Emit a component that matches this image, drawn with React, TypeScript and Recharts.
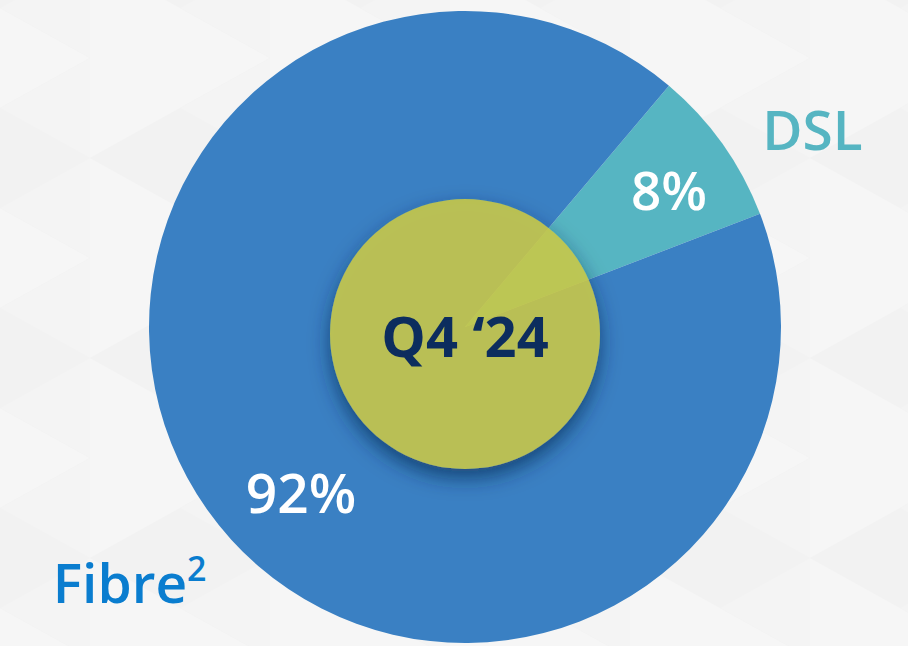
import { PieChart, Pie, Cell } from "recharts";

const CATEGORIES = ["DSL", "Fibre"];
const SHARES = [8, 92];
const CENTER_TEXT = "Q4 \u201824";

const SLICE_COLORS = ["#56b5c2", "#3a80c3"];
const NAME_COLORS = ["#56b5c2", "#0a7dcf"];

// label spots, [angle in degrees, distance from pie centre in px]
const VALUE_SPOT = [
  [34, 246],
  [225, 232],
];
const NAME_SPOT = [
  [29.7, 400],
  [217.2, 421],
];

const FONT = "'Open Sans', 'DejaVu Sans', sans-serif";

const data = CATEGORIES.map((name, i) => ({ name, value: SHARES[i] }));
const centre = [{ name: CENTER_TEXT, value: 1 }];

const RAD = Math.PI / 180;

function spot(cx: number, cy: number, [a, r]: number[]) {
  return { x: cx + r * Math.cos(a * RAD), y: cy - r * Math.sin(a * RAD) };
}

function SliceLabel(props: any) {
  const { cx, cy, index, percent } = props;
  const v = spot(cx, cy, VALUE_SPOT[index]);
  const n = spot(cx, cy, NAME_SPOT[index]);
  const name = CATEGORIES[index];
  return (
    <g>
      <text
        x={v.x}
        y={v.y}
        textAnchor="middle"
        dominantBaseline="central"
        fill="#ffffff"
        fontFamily={FONT}
        fontWeight={600}
        fontSize={index === 0 ? 53 : 55}
      >
        {`${Math.round(percent * 100)}%`}
      </text>
      <text
        x={n.x}
        y={n.y}
        textAnchor="middle"
        dominantBaseline="central"
        fill={NAME_COLORS[index]}
        fontFamily={FONT}
        fontWeight={600}
        fontSize={55}
      >
        {name}
        {name === "Fibre" && (
          <tspan fontSize={34} dy={-14}>
            2
          </tspan>
        )}
      </text>
    </g>
  );
}

function CentreLabel(props: any) {
  const { cx, cy } = props;
  return (
    <text
      x={cx}
      y={cy + 1}
      textAnchor="middle"
      dominantBaseline="central"
      fill="#0c2d5e"
      fontFamily={FONT}
      fontWeight={700}
      fontSize={56}
    >
      {CENTER_TEXT}
    </text>
  );
}

function Backdrop() {
  return (
    <svg
      width={908}
      height={646}
      style={{ position: "absolute", left: 0, top: 0 }}
    >
      <defs>
        <pattern
          id="tri"
          width={180}
          height={200}
          patternUnits="userSpaceOnUse"
          x={-90}
          y={-42}
        >
          <rect width={180} height={200} fill="#f2f2f2" />
          <polygon points="0,0 180,100 0,200" fill="#f6f6f6" />
          <polygon points="180,0 90,50 180,100" fill="#f4f4f4" />
          <polygon points="180,100 90,150 180,200" fill="#f4f4f4" />
        </pattern>
      </defs>
      <rect width={908} height={646} fill="url(#tri)" />
    </svg>
  );
}

export default function App() {
  return (
    <div
      style={{
        position: "absolute",
        left: 0,
        top: 0,
        width: 908,
        height: 646,
        overflow: "hidden",
        background: "#f2f2f2",
      }}
    >
      <Backdrop />
      <div style={{ position: "absolute", left: 0, top: 0 }}>
        <PieChart
          width={908}
          height={646}
          margin={{ top: 0, right: 0, bottom: 0, left: 0 }}
        >
          <defs>
            <filter id="ringShadow" x="-40%" y="-40%" width="180%" height="190%">
              <feGaussianBlur in="SourceAlpha" stdDeviation="10" result="blur" />
              <feOffset in="blur" dy="9" result="off" />
              <feFlood floodColor="#0d2850" floodOpacity="0.75" />
              <feComposite in2="off" operator="in" result="shadow" />
              <feComposite in="shadow" in2="SourceAlpha" operator="out" result="outer" />
              <feMerge>
                <feMergeNode in="outer" />
                <feMergeNode in="SourceGraphic" />
              </feMerge>
            </filter>
          </defs>
          <Pie
            data={data}
            dataKey="value"
            nameKey="name"
            cx={465}
            cy={327}
            innerRadius={0}
            outerRadius={316}
            startAngle={21}
            endAngle={381}
            stroke="none"
            label={SliceLabel}
            labelLine={false}
            isAnimationActive={false}
          >
            {data.map((d, i) => (
              <Cell key={d.name} fill={SLICE_COLORS[i]} />
            ))}
          </Pie>
          <Pie
            data={centre}
            dataKey="value"
            cx={465}
            cy={334}
            innerRadius={0}
            outerRadius={135}
            startAngle={90}
            endAngle={450}
            stroke="none"
            label={CentreLabel}
            labelLine={false}
            isAnimationActive={false}
          >
            <Cell
              fill="#c9c846"
              fillOpacity={0.88}
              filter="url(#ringShadow)"
            />
          </Pie>
        </PieChart>
      </div>
    </div>
  );
}
